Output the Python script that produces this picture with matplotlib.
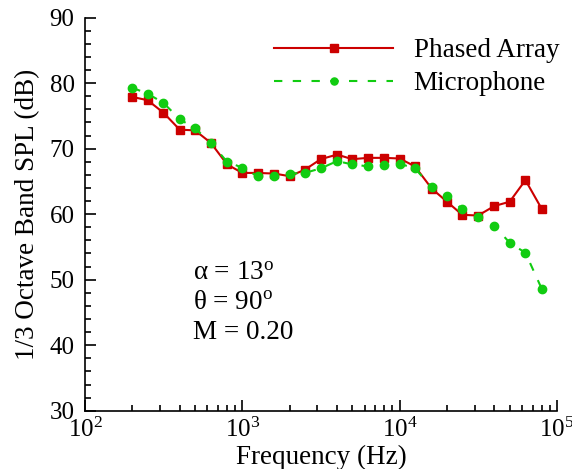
import matplotlib
matplotlib.use("Agg")
import matplotlib.pyplot as plt
import numpy as np
from matplotlib.ticker import LogLocator, LogFormatterMathtext, MultipleLocator

plt.rcParams['font.family'] = ['Liberation Serif', 'DejaVu Serif']
plt.rcParams['mathtext.fontset'] = 'custom'
plt.rcParams['mathtext.rm'] = 'Liberation Serif'
plt.rcParams['mathtext.it'] = 'Liberation Serif:italic'

# 1/3 octave band centre frequencies
freq = [200, 250, 315, 400, 500, 630, 800, 1000, 1250, 1600, 2000, 2500, 3150,
        4000, 5000, 6300, 8000, 10000, 12500, 16000, 20000, 25000, 31500,
        40000, 50000, 63000, 80000]

phased_array = [77.9, 77.4, 75.5, 72.9, 72.8, 70.9, 67.6, 66.3, 66.3, 66.2, 65.8,
                66.8, 68.4, 69.1, 68.4, 68.6, 68.6, 68.5, 67.3, 63.9, 61.9,
                59.9, 59.8, 61.25, 61.9, 65.2, 60.8]

microphone = [79.3, 78.4, 77.0, 74.5, 73.1, 70.9, 68.0, 67.1, 65.8, 65.8, 66.2,
              66.3, 67.0, 68.1, 67.6, 67.3, 67.5, 67.7, 67.0, 64.1, 62.8,
              60.75, 59.5, 58.2, 55.65, 54.1, 48.6]

red = '#cc0000'
green = '#11cc11'
dash = (0, (4, 5))

fig = plt.figure(figsize=(5.72, 4.69), dpi=100)
ax = fig.add_axes([0.1486, 0.1243, 0.8252, 0.838])

ax.plot(freq, phased_array, color=red, lw=1.5, marker='s', ms=6, mec=red, mfc=red,
        label='Phased Array')
ax.plot(freq, microphone, color=green, lw=1.5, ls=dash, marker='o', ms=6,
        mec=green, mfc=green, label='Microphone')

ax.set_xscale('log')
ax.set_xlim(1e2, 1e5)
ax.set_ylim(30, 90)

ax.xaxis.set_major_locator(LogLocator(base=10, numticks=10))
ax.xaxis.set_major_formatter(LogFormatterMathtext())
ax.xaxis.set_minor_locator(LogLocator(base=10, subs=np.arange(2, 10), numticks=20))
ax.yaxis.set_major_locator(MultipleLocator(10))
ax.yaxis.set_minor_locator(MultipleLocator(2))

ax.tick_params(which='both', direction='in', top=False, right=False, labelsize=18,
               width=1.2)
ax.tick_params(which='major', length=8)
ax.tick_params(which='minor', length=4)
ax.tick_params(axis='x', pad=5)
ax.tick_params(axis='y', pad=7.5)

for s in ['top', 'right']:
    ax.spines[s].set_visible(False)
for s in ['left', 'bottom']:
    ax.spines[s].set_linewidth(1.2)

ax.set_xlabel('Frequency (Hz)', fontsize=19.5, labelpad=2)
ax.set_ylabel('1/3 Octave Band SPL (dB)', fontsize=19.5, labelpad=7)

ax.legend(loc='upper right', bbox_to_anchor=(1.016, 0.962), frameon=False,
          fontsize=19.5, numpoints=1, markerscale=0.85, handlelength=4.4,
          handletextpad=0.75, labelspacing=0.3, borderpad=0.2, borderaxespad=0)

ax.text(0.228, 0.333, 'α = 13$^{\\mathrm{o}}$', transform=ax.transAxes, fontsize=19.5)
ax.text(0.228, 0.258, 'θ = 90$^{\\mathrm{o}}$', transform=ax.transAxes, fontsize=19.5)
ax.text(0.228, 0.183, 'M = 0.20', transform=ax.transAxes, fontsize=19.5)

fig.savefig('out.png', dpi=100)
